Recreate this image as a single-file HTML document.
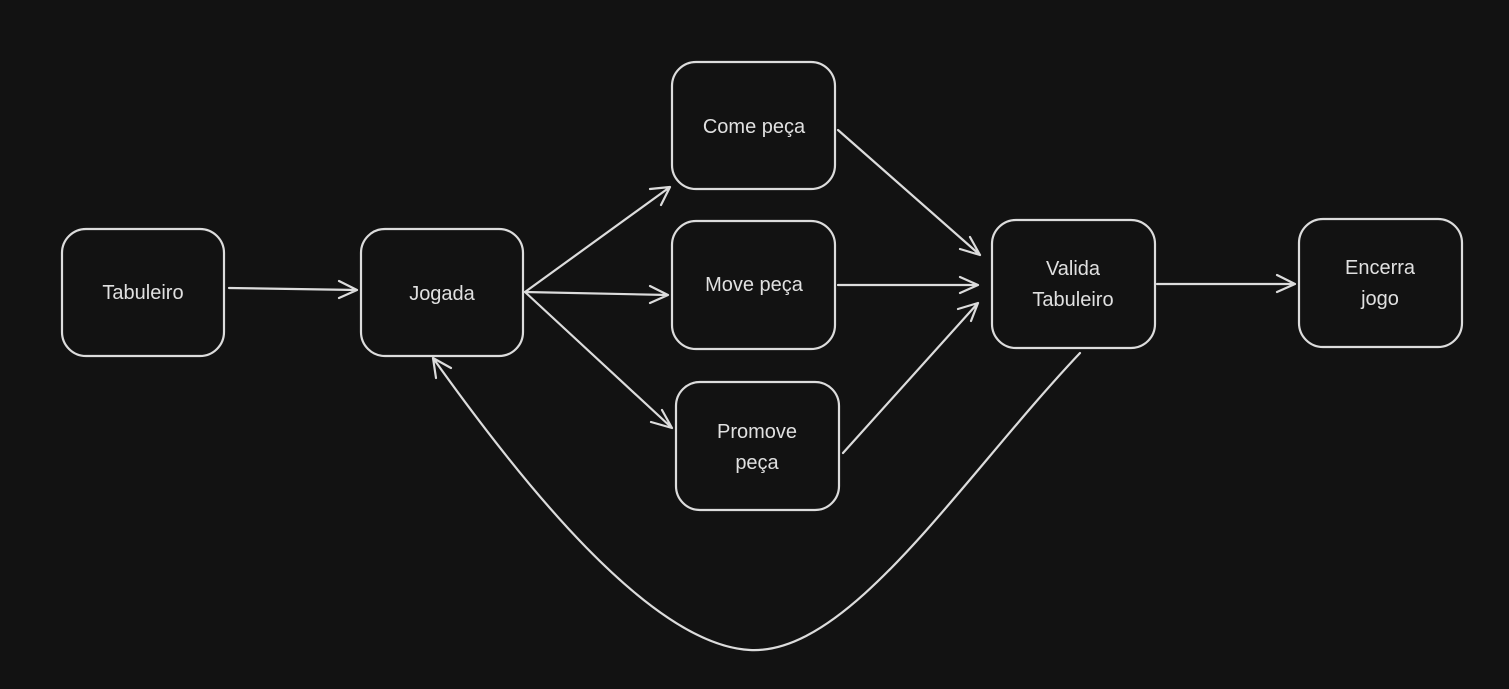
<!DOCTYPE html>
<html><head><meta charset="utf-8"><style>
html,body{margin:0;padding:0;background:#121212;}
svg{display:block}
text{font-family:"Liberation Sans",sans-serif;font-size:20px;fill:#e0e0e0;text-anchor:middle;}
</style></head><body>
<svg width="1509" height="689" viewBox="0 0 1509 689" xmlns="http://www.w3.org/2000/svg">
<rect width="1509" height="689" fill="#121212"/>
<g fill="none" stroke="#dcdcdc" stroke-width="2.2" stroke-linecap="round" stroke-linejoin="round">
<rect x="62" y="229" width="162" height="127" rx="24"/>
<rect x="361" y="229" width="162" height="127" rx="24"/>
<rect x="672" y="62" width="163" height="127" rx="24"/>
<rect x="672" y="221" width="163" height="128" rx="24"/>
<rect x="676" y="382" width="163" height="128" rx="24"/>
<rect x="992" y="220" width="163" height="128" rx="24"/>
<rect x="1299" y="219" width="163" height="128" rx="24"/>
<path d="M229 288 L357 290 M339 281 L357 290 L339 298"/>
<path d="M525 292 L670 187 M650 189 L670 187 L661 205"/>
<path d="M525 292 L668 295 M650 286 L668 295 L650 303"/>
<path d="M525 292 L672 428 M662 410 L672 428 L651 422"/>
<path d="M838 130 L980 255 M970 237 L980 255 L960 249"/>
<path d="M838 285 L978 285 M960 277 L978 285 L960 293"/>
<path d="M843 453 L978 303 M958 309 L978 303 L971 321"/>
<path d="M1157 284 L1295 284 M1277 275 L1295 284 L1277 292"/>
<path d="M1080 353 C 960 480, 850 655, 750 650 C 650 645, 520 480, 433 358 M436 378 L433 358 L451 368"/>
</g>
<text x="143" y="299">Tabuleiro</text>
<text x="442" y="300">Jogada</text>
<text x="754" y="133">Come peça</text>
<text x="754" y="291">Move peça</text>
<text x="757" y="438">Promove</text>
<text x="757" y="469">peça</text>
<text x="1073" y="275">Valida</text>
<text x="1073" y="306">Tabuleiro</text>
<text x="1380" y="274">Encerra</text>
<text x="1380" y="305">jogo</text>
</svg>
</body></html>
